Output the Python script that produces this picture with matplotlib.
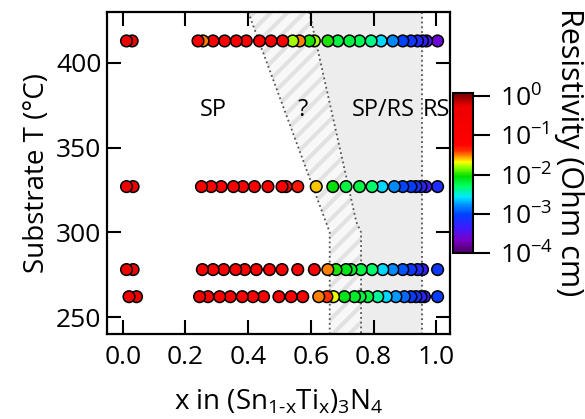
import numpy as np
import matplotlib
matplotlib.use("Agg")
import matplotlib.pyplot as plt
from matplotlib.colors import LinearSegmentedColormap, LogNorm

plt.rcParams['font.family'] = ['Open Sans', 'DejaVu Sans']
plt.rcParams['mathtext.fontset'] = 'custom'
plt.rcParams['mathtext.rm'] = 'Open Sans'
plt.rcParams['mathtext.it'] = 'Open Sans'
plt.rcParams['hatch.linewidth'] = 3.0

# substrate temperatures (C) of the four sample rows
temps = [413, 327, 278, 262]

# composition x and log10(resistivity / Ohm cm) read for each row
x_413 = [0.012, 0.030, 0.240, 0.256, 0.288, 0.325, 0.362, 0.394, 0.436, 0.473, 0.510,
         0.542, 0.564, 0.595, 0.611, 0.654, 0.686, 0.723, 0.755, 0.792, 0.824, 0.861,
         0.893, 0.919, 0.940, 0.956, 0.969, 1.004]
r_413 = [-0.3, -0.3, -1.2, -1.5, -1.0, -1.0, -0.9, -1.0, -1.0, -1.0, -1.1,
         -1.8, -1.5, -2.0, -1.8, -2.0, -2.2, -2.2, -2.25, -2.35, -2.6, -2.8,
         -3.0, -3.1, -3.2, -3.3, -3.4, -3.6]

x_327 = [0.012, 0.033, 0.251, 0.282, 0.314, 0.353, 0.383, 0.420, 0.463, 0.508, 0.521,
         0.558, 0.617, 0.670, 0.712, 0.755, 0.795, 0.827, 0.866, 0.893, 0.919, 0.935,
         0.951, 0.967, 1.004]
r_327 = [-0.3, -0.3, -1.0, -1.0, -1.0, -0.9, -1.0, -1.0, -1.0, -1.0, -0.6,
         -1.3, -1.6, -2.05, -2.2, -2.2, -2.3, -2.6, -2.8, -3.0, -3.05, -3.15,
         -3.25, -3.4, -3.2]

x_278 = [0.012, 0.033, 0.254, 0.288, 0.322, 0.360, 0.389, 0.426, 0.468, 0.508, 0.558,
         0.611, 0.654, 0.680, 0.712, 0.728, 0.760, 0.795, 0.829, 0.861, 0.893, 0.919,
         0.940, 0.956, 1.004]
r_278 = [-0.3, -0.3, -1.0, -1.0, -1.0, -0.9, -1.0, -1.0, -1.0, -1.0, -1.0,
         -1.0, -1.5, -2.0, -2.1, -2.15, -2.2, -2.3, -2.6, -2.8, -2.95, -3.1,
         -3.2, -3.3, -3.1]

x_262 = [0.020, 0.044, 0.245, 0.272, 0.309, 0.343, 0.381, 0.415, 0.449, 0.498, 0.537,
         0.574, 0.625, 0.651, 0.672, 0.707, 0.739, 0.757, 0.781, 0.813, 0.840, 0.871,
         0.898, 0.919, 0.935, 0.951, 0.962, 1.004]
r_262 = [-0.3, -0.3, -0.4, -1.0, -1.0, -1.0, -0.9, -1.0, -1.0, -1.0, -1.0,
         -1.0, -1.5, -1.4, -1.7, -2.1, -2.15, -2.2, -2.2, -2.4, -2.6, -2.75,
         -2.9, -3.05, -3.15, -3.25, -3.35, -3.05]

rows_x = [x_413, x_327, x_278, x_262]
rows_r = [r_413, r_327, r_278, r_262]

# phase boundaries (x, T)
bound1_x = [0.40, 0.64, 0.66, 0.66]
bound1_t = [430, 310, 300, 240]
bound2_x = [0.595, 0.745, 0.76, 0.76]
bound2_t = [430, 306, 300, 240]
bound3_x = [0.955, 0.955]
bound3_t = [430, 240]

region_labels = ['SP', '?', 'SP/RS', 'RS']
region_x = [0.29, 0.575, 0.83, 1.0]
region_t = [372, 372, 372, 372]

cmap = LinearSegmentedColormap.from_list('idl_rainbow', [
    (0.00, '#4b0060'), (0.08, '#7a00c8'), (0.16, '#3a1cff'), (0.24, '#0040ff'),
    (0.30, '#0090ff'), (0.35, '#00e8ff'), (0.42, '#00ff60'), (0.48, '#00dd00'),
    (0.53, '#80ff00'), (0.57, '#ffff00'), (0.60, '#ffa000'), (0.64, '#ff3000'),
    (0.68, '#ff0000'), (0.92, '#ee0000'), (1.00, '#700000')])
norm = LogNorm(vmin=1e-4, vmax=1.2)

fig = plt.figure(figsize=(5.85, 4.19), dpi=100)
ax = fig.add_axes([0.183, 0.203, 0.587, 0.768])

# shaded phase regions
ax.fill(bound1_x + bound2_x[::-1], bound1_t + bound2_t[::-1],
        facecolor='#f8f8f8', edgecolor='#e2e2e2', hatch='//', linewidth=0, zorder=0)
ax.fill(bound2_x + bound3_x[::-1], bound2_t + bound3_t[::-1],
        facecolor='#ededed', edgecolor='none', zorder=0)
for bx, bt in [(bound1_x, bound1_t), (bound2_x, bound2_t), (bound3_x, bound3_t)]:
    ax.plot(bx, bt, ls=':', color='#555555', lw=1.3, zorder=1)

sc = None
for t, xs, rs in zip(temps, rows_x, rows_r):
    xs = np.array(xs)
    rs = 10.0 ** np.array(rs)
    order = np.argsort(xs)[::-1]
    sc = ax.scatter(xs[order], np.full(len(xs), t), c=rs[order], cmap=cmap, norm=norm,
                    s=70, edgecolors='black', linewidths=1.1, zorder=3)

for lab, lx, lt in zip(region_labels, region_x, region_t):
    ax.text(lx, lt, lab, ha='center', va='center', fontsize=17, zorder=4)

ax.set_xlim(-0.05, 1.045)
ax.set_ylim(240, 430)
ax.set_xticks([0.0, 0.2, 0.4, 0.6, 0.8, 1.0])
ax.set_yticks([250, 300, 350, 400])
ax.set_xticklabels(['0.0', '0.2', '0.4', '0.6', '0.8', '1.0'])
ax.tick_params(direction='in', length=10, width=1.5, labelsize=19,
               top=True, right=True)
ax.tick_params(axis='x', pad=8)
ax.tick_params(axis='y', pad=4)
for sp in ax.spines.values():
    sp.set_linewidth(1.6)
ax.set_xlabel(r'x in (Sn$_{1\text{-}x}$Ti$_x$)$_3$N$_4$', fontsize=20, labelpad=13)
ax.set_ylabel('Substrate T (°C)', fontsize=20, labelpad=4)

cax = fig.add_axes([0.774, 0.396, 0.034, 0.382])
cb = fig.colorbar(sc, cax=cax)
cb.set_ticks([1e-4, 1e-3, 1e-2, 1e-1, 1])
cb.ax.minorticks_off()
cb.ax.tick_params(direction='out', length=12, width=1.5, labelsize=19, pad=8)
cb.outline.set_linewidth(1.5)
fig.text(0.972, 0.637, 'Resistivity (Ohm cm)', rotation=270, ha='center', va='center',
         fontsize=22)

fig.savefig('out.png', dpi=100)
